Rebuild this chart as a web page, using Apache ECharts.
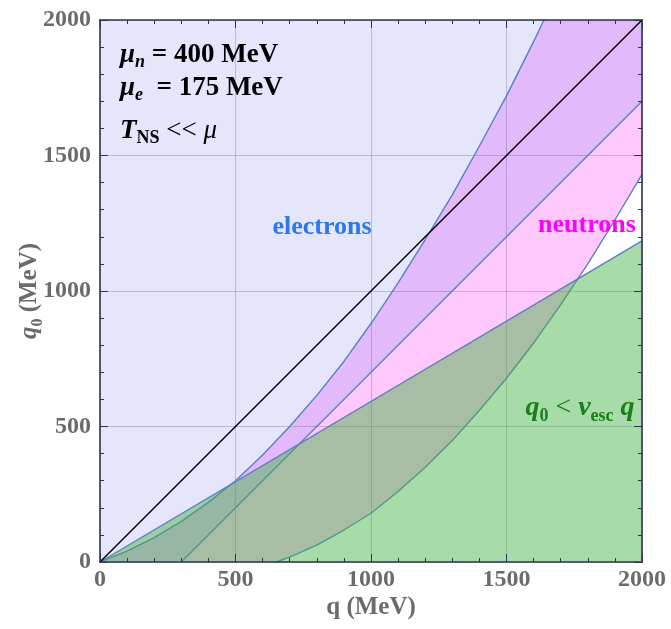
<!DOCTYPE html>
<html><head><meta charset="utf-8">
<script src="https://cdn.jsdelivr.net/npm/echarts@6/dist/echarts.min.js"></script>
<style>html,body{margin:0;padding:0;background:#fff}#c{width:671px;height:629px}</style>
</head><body><div id="c"></div>
<script>
// ---- data ----
const axisTicks = [0, 500, 1000, 1500, 2000];
// neutron region, upper boundary q0(q)
const neutronUpperQ  = [0, 100, 200, 300, 400, 500, 600, 700, 800, 900, 1000, 1100, 1200, 1300, 1400, 1500, 1600, 1700];
const neutronUpperQ0 = [0, 40, 90, 150, 220, 300, 395, 500, 615, 740, 880, 1030, 1190, 1355, 1535, 1720, 1920, 2130];
// neutron region, lower boundary q0(q)
const neutronLowerQ  = [650, 700, 800, 900, 1000, 1100, 1200, 1300, 1400, 1500, 1600, 1700, 1800, 1900, 2000];
const neutronLowerQ0 = [0, 18, 62, 118, 180, 260, 350, 448, 560, 678, 808, 950, 1100, 1262, 1430];
// electron region lower boundary (straight)
const electronLowerQ  = [300, 2000];
const electronLowerQ0 = [0, 1700];
// q0 = v_esc q line
const escQ  = [0, 2000];
const escQ0 = [0, 1185];
// q0 = q
const diagQ  = [0, 2000];
const diagQ0 = [0, 2000];

const AX_MIN = axisTicks[0], AX_MAX = axisTicks[axisTicks.length - 1];
const zip = (a, b) => a.map((v, i) => [v, b[i]]);
const upper = zip(neutronUpperQ, neutronUpperQ0);
const lower = zip(neutronLowerQ, neutronLowerQ0);
const eLow = zip(electronLowerQ, electronLowerQ0);
const esc = zip(escQ, escQ0);
const diag = zip(diagQ, diagQ0);
const upTop = upper[upper.length - 1][1];

const electronPoly = [[AX_MIN, AX_MIN]].concat(eLow, [[AX_MAX, AX_MAX], [AX_MIN, AX_MAX]]);
const neutronPoly = upper.concat([[AX_MAX, upTop]], lower.slice().reverse(), [[AX_MIN, AX_MIN]]);
const overlapPoly = upper.concat([[AX_MAX, upTop]], eLow.slice().reverse(), [[AX_MIN, AX_MIN]]);
const greenPoly = esc.concat([[AX_MAX, AX_MIN]]);

const SERIF = "'Liberation Serif','DejaVu Serif',serif";
const STROKE = '#5b7ec2';

function poly(points, fill, z) {
  return {
    type: 'custom', coordinateSystem: 'cartesian2d', clip: true, silent: true, z: z,
    data: [[0, 0]],
    renderItem: (params, api) => ({
      type: 'polygon',
      shape: { points: points.map(p => api.coord(p)) },
      style: { fill: fill, stroke: null }
    })
  };
}
function line(points, color, width, z) {
  return {
    type: 'line', data: points, showSymbol: false, symbol: 'none', silent: true, z: z,
    lineStyle: { color: color, width: width }, clip: true, animation: false
  };
}

const labelStyle = { fontFamily: SERIF, fontWeight: 'bold', fontSize: 24, color: '#6b6b6b', formatter: v => String(v) };
function baseAxis(pos, extra) {
  return Object.assign({
    type: 'value', min: AX_MIN, max: AX_MAX, interval: 500, position: pos, z: 10,
    axisLine: { show: true, onZero: false, lineStyle: { color: '#2c3550', width: 1.6 } },
    axisTick: { show: true, inside: true, length: 8, lineStyle: { color: '#2c3550', width: 1 } },
    minorTick: { show: true, splitNumber: 5, length: 4, lineStyle: { color: '#2c3550', width: 1 } },
    splitLine: { show: false },
    axisLabel: { show: false },
    nameMoveOverlap: false
  }, extra || {});
}
function gridAxis() {
  return {
    type: 'value', min: AX_MIN, max: AX_MAX, interval: 500, z: 2,
    axisLine: { show: false }, axisTick: { show: false }, axisLabel: { show: false },
    splitLine: { show: true, lineStyle: { color: 'rgba(95,95,130,0.32)', width: 1 } }
  };
}

const chart = echarts.init(document.getElementById('c'));
chart.setOption({
  animation: false,
  backgroundColor: '#ffffff',
  grid: { left: 100, right: 29, top: 20, bottom: 67, containLabel: false, outerBoundsMode: 'none' },
  xAxis: [
    baseAxis('bottom', {
      axisLabel: Object.assign({ show: true, margin: 6 }, labelStyle),
      name: 'q (MeV)', nameLocation: 'middle', nameGap: 33,
      nameTextStyle: { fontFamily: SERIF, fontWeight: 'bold', fontSize: 25, color: '#6b6b6b' }
    }),
    baseAxis('top'),
    gridAxis()
  ],
  yAxis: [
    baseAxis('left', {
      axisLabel: Object.assign({ show: true, margin: 9 }, labelStyle),
      name: '{q|q}{s|0}{t| (MeV)}', nameLocation: 'middle', nameGap: 54, nameRotate: 90,
      nameTextStyle: {
        rich: {
          q: { fontFamily: SERIF, fontWeight: 'bold', fontStyle: 'italic', fontSize: 25, color: '#6b6b6b', lineHeight: 32, verticalAlign: 'middle' },
          s: { fontFamily: SERIF, fontWeight: 'bold', fontSize: 16, color: '#6b6b6b', lineHeight: 12, verticalAlign: 'bottom' },
          t: { fontFamily: SERIF, fontWeight: 'bold', fontSize: 25, color: '#6b6b6b', lineHeight: 32, verticalAlign: 'middle' }
        }
      }
    }),
    baseAxis('right'),
    gridAxis()
  ],
  series: [
    poly(electronPoly, '#e5e5fb', 1),
    poly(neutronPoly, '#ffc8fc', 1),
    poly(overlapPoly, '#e2b9fa', 1),
    line(upper, STROKE, 1.4, 3),
    line(lower, STROKE, 1.4, 3),
    line(eLow, STROKE, 1.4, 3),
    poly(greenPoly, 'rgba(72,180,72,0.48)', 4),
    line(esc, STROKE, 1.4, 5),
    line(diag, '#000000', 1.5, 6)
  ],
  graphic: [
    { type: 'text', x: 120, y: 55, z: 20, style: {
      text: '{m|μ}{s|n}{t| = 400 MeV}', align: 'left', verticalAlign: 'middle', textAlign: 'left', textVerticalAlign: 'middle',
      rich: {
        m: { fontFamily: SERIF, fontWeight: 'bold', fontStyle: 'italic', fontSize: 27, fill: '#000', lineHeight: 32, verticalAlign: 'middle' },
        s: { fontFamily: SERIF, fontWeight: 'bold', fontStyle: 'italic', fontSize: 18, fill: '#000', lineHeight: 12, verticalAlign: 'bottom' },
        t: { fontFamily: SERIF, fontWeight: 'bold', fontSize: 27, fill: '#000', lineHeight: 32, verticalAlign: 'middle' }
      } } },
    { type: 'text', x: 120, y: 88, z: 20, style: {
      text: '{m|μ}{s|e}{t|  = 175 MeV}', align: 'left', verticalAlign: 'middle', textAlign: 'left', textVerticalAlign: 'middle',
      rich: {
        m: { fontFamily: SERIF, fontWeight: 'bold', fontStyle: 'italic', fontSize: 27, fill: '#000', lineHeight: 32, verticalAlign: 'middle' },
        s: { fontFamily: SERIF, fontWeight: 'bold', fontStyle: 'italic', fontSize: 18, fill: '#000', lineHeight: 12, verticalAlign: 'bottom' },
        t: { fontFamily: SERIF, fontWeight: 'bold', fontSize: 27, fill: '#000', lineHeight: 32, verticalAlign: 'middle' }
      } } },
    { type: 'text', x: 120, y: 131, z: 20, style: {
      text: '{m|T}{s|NS}{t| << }{u|μ}', align: 'left', verticalAlign: 'middle', textAlign: 'left', textVerticalAlign: 'middle',
      rich: {
        m: { fontFamily: SERIF, fontWeight: 'bold', fontStyle: 'italic', fontSize: 27, fill: '#000', lineHeight: 32, verticalAlign: 'middle' },
        s: { fontFamily: SERIF, fontWeight: 'bold', fontSize: 18, fill: '#000', lineHeight: 12, verticalAlign: 'bottom' },
        t: { fontFamily: SERIF, fontSize: 27, fill: '#000', lineHeight: 32, verticalAlign: 'middle' },
        u: { fontFamily: SERIF, fontStyle: 'italic', fontSize: 27, fill: '#000', lineHeight: 32, verticalAlign: 'middle' }
      } } },
    { type: 'text', x: 322, y: 227, z: 20, style: {
      text: 'electrons', fontFamily: SERIF, fontWeight: 'bold', fontSize: 26, fill: '#2a78ee',
      align: 'center', verticalAlign: 'middle', textAlign: 'center', textVerticalAlign: 'middle' } },
    { type: 'text', x: 587, y: 225, z: 20, style: {
      text: 'neutrons', fontFamily: SERIF, fontWeight: 'bold', fontSize: 26, fill: '#ff00ff',
      align: 'center', verticalAlign: 'middle', textAlign: 'center', textVerticalAlign: 'middle' } },
    { type: 'text', x: 580, y: 408, z: 20, style: {
      text: '{m|q}{s|0}{t| < }{m|v}{s|esc}{t| }{m|q}', align: 'center', verticalAlign: 'middle', textAlign: 'center', textVerticalAlign: 'middle',
      rich: {
        m: { fontFamily: SERIF, fontWeight: 'bold', fontStyle: 'italic', fontSize: 28, fill: '#1b7d1b', lineHeight: 34, verticalAlign: 'middle' },
        s: { fontFamily: SERIF, fontWeight: 'bold', fontSize: 18, fill: '#1b7d1b', lineHeight: 12, verticalAlign: 'bottom' },
        t: { fontFamily: SERIF, fontSize: 28, fill: '#1b7d1b', lineHeight: 34, verticalAlign: 'middle' }
      } } }
  ]
});
</script>
</body></html>
